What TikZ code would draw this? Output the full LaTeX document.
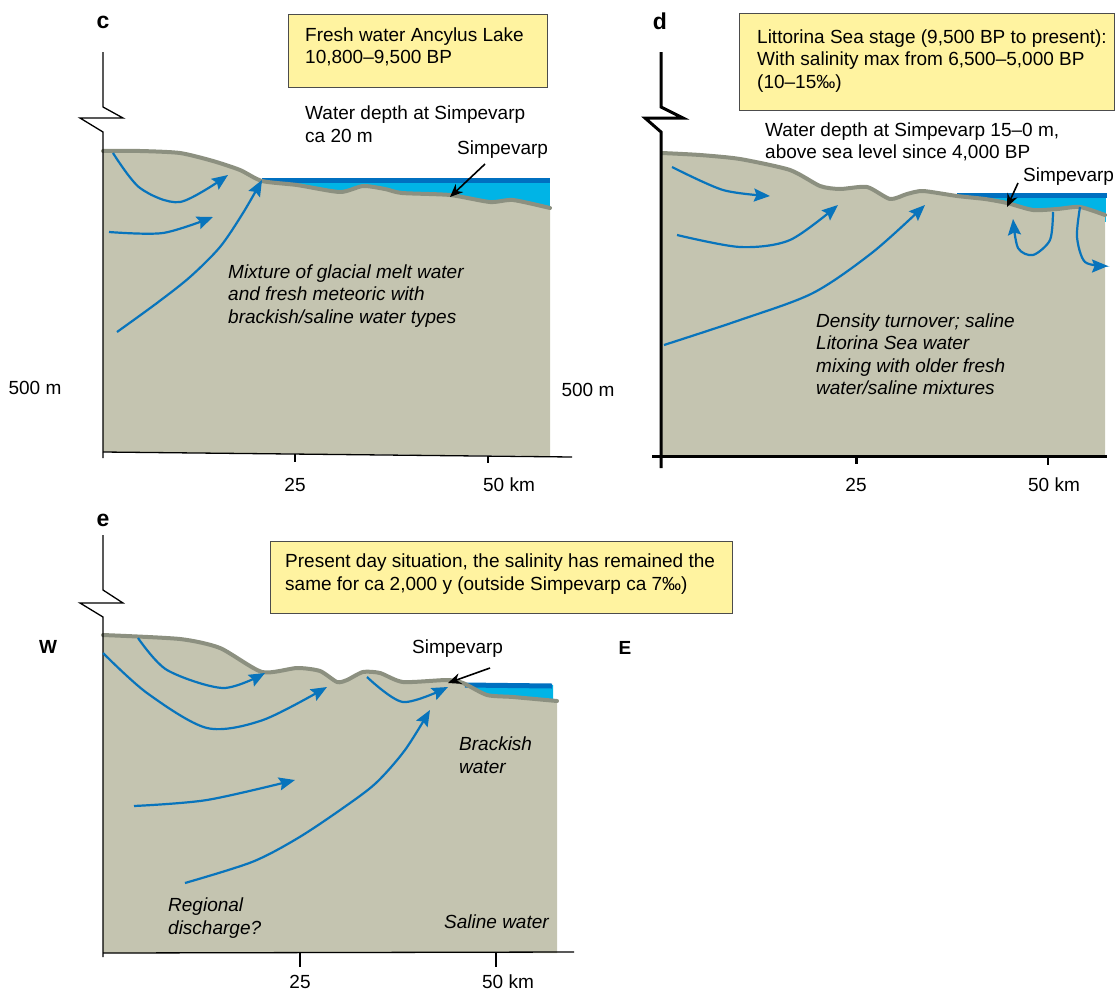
\documentclass[tikz,border=0pt]{standalone}
\usepackage{fontspec}
\setmainfont{Liberation Sans}
\usetikzlibrary{arrows.meta}

\definecolor{rock}{RGB}{196,196,176}
\definecolor{rockline}{RGB}{140,144,128}
\definecolor{flowblue}{RGB}{8,116,188}
\definecolor{seablue}{RGB}{0,112,192}
\definecolor{shallow}{RGB}{0,180,230}
\definecolor{notefill}{RGB}{255,243,160}

\tikzset{
    ground/.style={fill=rock},
    surface/.style={
           draw=rockline,
           line width=4pt,
           line cap=round,
           line join=round
           },
    axis/.style={draw=black, line width=1.3pt},
    thickaxis/.style={draw=black, line width=3pt},
    flow/.style={
           draw=flowblue,
           line width=2.2pt,
           -{Stealth[length=16pt,width=13pt,inset=2.5pt]}
           },
    pointer/.style={draw=black, line width=1.6pt, -{Stealth[length=13pt,width=11pt]}},
    note/.style={fill=notefill, draw=black!70, line width=1pt},
    txt/.style={
           font=\fontsize{19}{22.5}\selectfont,
           inner sep=0pt,
           align=left,
           anchor=west
           },
    desc/.style={txt, font=\fontsize{19}{22.5}\selectfont\itshape},
    tag/.style={font=\fontsize{19}{22}\selectfont\bfseries, inner sep=0pt},
    panel/.style={font=\fontsize{23}{26}\selectfont\bfseries, inner sep=0pt},
    scale label/.style={font=\fontsize{19}{22}\selectfont, inner sep=0pt}
}

% sea floor / land profiles
\newcommand\profc{plot[smooth, tension=0.4] coordinates {(103,151) (140,151) (180,153) (213,161) (240,170) (262,181) (297,185) (340,192) (363,186) (385,189) (402,193) (450,195) (490,202) (513,200) (550,208)}}
\newcommand\profd{plot[smooth, tension=0.4] coordinates {(662,153) (700,155) (740,159) (790,170) (820,186) (840,189) (867,187) (890,199) (907,194) (923,191) (957,196) (985,199) (1007,203) (1033,210) (1057,209) (1080,207) (1105,215)}}
\newcommand\profe{plot[smooth, tension=0.4] coordinates {(103,635) (180,639) (220,648) (262,672) (297,668) (320,671) (337,682) (347,680) (363,672) (380,673) (403,682) (447,680) (463,683) (487,695) (513,697) (557,701)}}

\begin{document}
\begin{tikzpicture}[x=1pt, y=-1pt]
   \useasboundingbox (0,0) rectangle (1116,993);

   %% ---- c: Ancylus Lake
   \fill[shallow] (262,180) -- (550,180) -- (550,215) -- (262,215) -- cycle;
   \fill[ground] \profc -- (550,456) -- (103,452) -- cycle;
   \draw[seablue, line width=5pt] (262,180) -- (550,180);
   \draw[surface] \profc;
   \draw[axis] (103,52) -- (103,107) -- (123,118) -- (80,118) -- (103,132) -- (103,458);
   \draw[axis] (103,452) -- (572,457);
   \draw[axis] (295,454) -- (295,462);
   \draw[axis] (488,456) -- (488,463);

   \draw[flow] plot[smooth] coordinates {(113,153) (140,188) (180,202) (228,175)};
   \draw[flow] plot[smooth] coordinates {(109,232) (163,233) (213,217)};
   \draw[flow] plot[smooth] coordinates {(117,332) (157,303) (190,277) (220,247) (243,213) (262,180)};

   \node[panel] (labc) at (103,22) {c};
   \draw[note] (288,14) rectangle (547,87);
   \node[txt] (notec) at (305,47) {Fresh water Ancylus Lake\\10,800–9,500 BP};
   \node[txt] (depthc) at (305,124) {Water depth at Simpevarp\\ca 20 m};
   \node[txt] (simpcl) at (457,150) {Simpevarp};
   \coordinate (simpcfrom) at (485,164);
   \coordinate (simpc) at (450,197);
   \draw[pointer] (simpcfrom) -- (simpc);
   \node[desc] (mixc) at (228,296) {Mixture of glacial melt water\\and fresh meteoric with\\brackish/saline water types};

   \node[scale label] (depthl) at (35,388) {500 m};
   \node[scale label] (depthr) at (588,390) {500 m};
   \node[scale label] (kmc1) at (295,485) {25};
   \node[scale label] (kmc2) at (509,485) {50 km};

   %% ---- d: Littorina Sea
   \fill[shallow] (955,195) -- (1106,195) -- (1106,222) -- (955,222) -- cycle;
   \fill[ground] \profd -- (1105,456) -- (661,456) -- cycle;
   \draw[seablue, line width=5pt] (957,195) -- (1107,195);
   \draw[surface] \profd;
   \draw[thickaxis] (661,52) -- (661,107) -- (683,118) -- (645,118) -- (661,132) -- (661,468);
   \draw[thickaxis] (652,456) -- (1107,456);
   \draw[thickaxis] (856,456) -- (856,464);
   \draw[axis] (1048,456) -- (1048,465);

   \draw[flow] plot[smooth] coordinates {(672,167) (723,190) (770,196)};
   \draw[flow] plot[smooth] coordinates {(677,235) (740,247) (790,240) (838,205)};
   \draw[flow] plot[smooth] coordinates {(664,345) (740,320) (813,293) (873,252) (925,205)};
   \draw[flow] plot[smooth] coordinates {(1053,212) (1050,240) (1033,255) (1018,248) (1013,219)};
   \draw[flow] plot[smooth] coordinates {(1080,207) (1077,237) (1085,262) (1108,266)};

   \node[panel] (labd) at (660,21) {d};
   \draw[note] (739,13) rectangle (1114,110);
   \node[txt] (noted) at (757,61) {Littorina Sea stage (9,500 BP to present):\\With salinity max from 6,500–5,000 BP\\(10–15‰)};
   \node[txt] (depthd) at (765,142) {Water depth at Simpevarp 15–0 m,\\above sea level since 4,000 BP};
   \node[txt] (simpdl) at (1023,177) {Simpevarp};
   \coordinate (simpdfrom) at (1018,183);
   \coordinate (simpd) at (1007,207);
   \draw[pointer] (simpdfrom) -- (simpd);
   \node[desc] (mixd) at (816,354) {Density turnover; saline\\Litorina Sea water\\mixing with older fresh\\water/saline mixtures};

   \node[scale label] (kmd1) at (856,485) {25};
   \node[scale label] (kmd2) at (1054,485) {50 km};

   %% ---- e: present day
   \fill[shallow] (463,684) -- (553,685) -- (553,702) -- (463,702) -- cycle;
   \fill[ground] \profe -- (557,953) -- (103,953) -- cycle;
   \draw[seablue, line width=5pt] (465,685) -- (552,686);
   \draw[surface] \profe;
   \draw[axis] (103,535) -- (103,590) -- (123,603) -- (80,603) -- (103,617) -- (103,957);
   \draw[axis] (103,953) -- (574,952);
   \draw[axis] (300,953) -- (300,967);
   \draw[axis] (496,953) -- (496,967);

   \draw[flow] plot[smooth] coordinates {(138,638) (167,670) (223,688) (265,673)};
   \draw[flow] plot[smooth] coordinates {(103,653) (147,693) (207,728) (263,720) (327,687)};
   \draw[flow] plot[smooth] coordinates {(367,677) (403,702) (448,687)};
   \draw[flow] plot[smooth] coordinates {(185,883) (252,862) (298,838) (343,808) (376,783) (405,750) (430,710)};
   \draw[flow] plot[smooth] coordinates {(134,806) (207,800) (295,780)};

   \node[panel] (labe) at (103,520) {e};
   \draw[note] (270,541) rectangle (732,613);
   \node[txt] (notee) at (285,574) {Present day situation, the salinity has remained the\\same for ca 2,000 y (outside Simpevarp ca 7‰)};
   \node[txt] (simpel) at (412,649) {Simpevarp};
   \coordinate (simpefrom) at (490,668);
   \coordinate (simpe) at (448,683);
   \draw[pointer] (simpefrom) -- (simpe);
   \node[tag] (west) at (48,647) {W};
   \node[tag] (east) at (625,648) {E};
   \node[desc] (brack) at (459,755) {Brackish\\water};
   \node[desc] (regio) at (168,918) {Regional\\discharge?};
   \node[desc] (saline) at (444,922) {Saline water};

   \node[scale label] (kme1) at (300,982) {25};
   \node[scale label] (kme2) at (508,982) {50 km};
\end{tikzpicture}
\end{document}
